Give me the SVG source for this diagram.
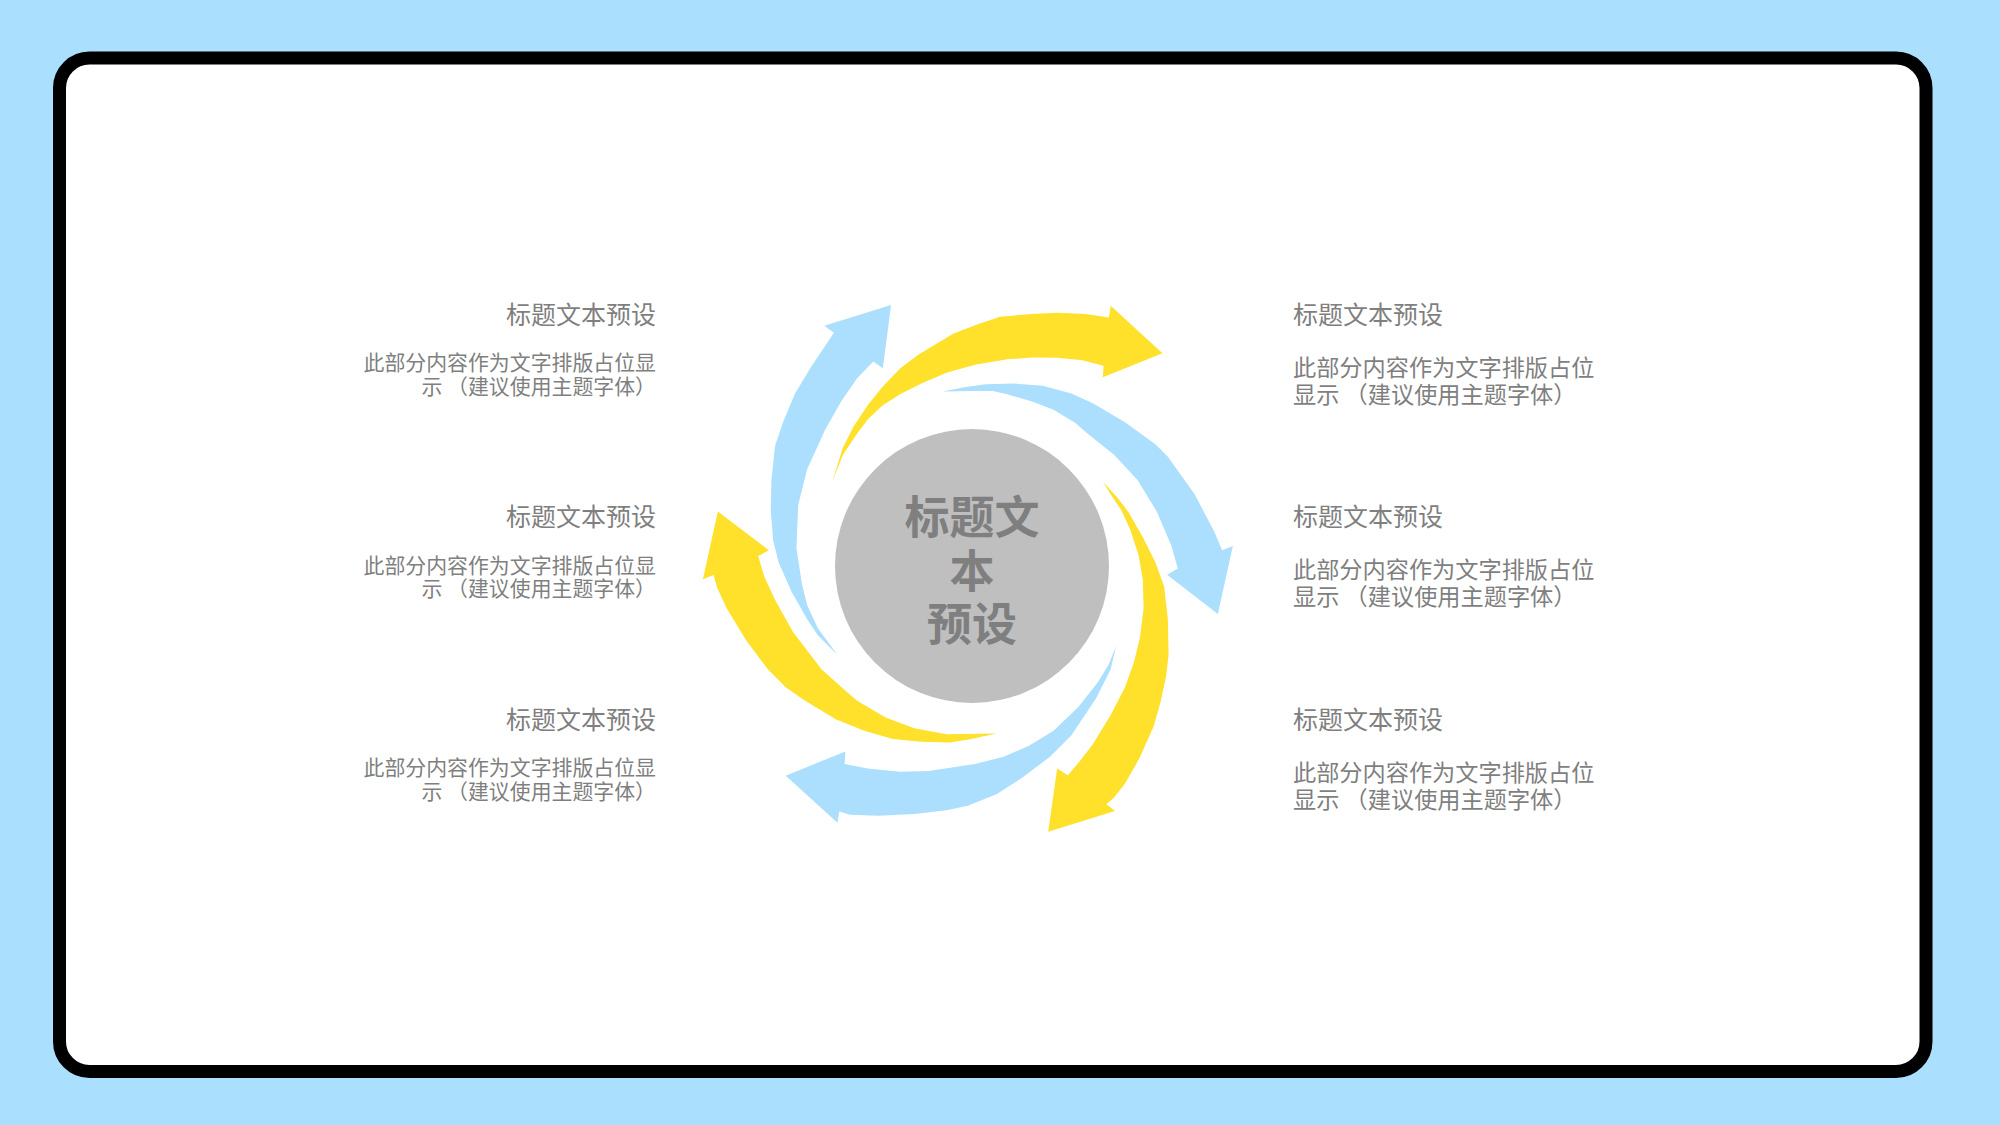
<svg xmlns="http://www.w3.org/2000/svg" width="2000" height="1125" viewBox="0 0 2000 1125">
  <style>
    .bg { fill: #ABDFFE; }
    .frame { fill: #FFFFFF; stroke: #000000; stroke-width: 13; }
    .blue { fill: #ABDFFD; }
    .yellow { fill: #FFE12B; }
    .hub { fill: #BFBFBF; }
    .hubtxt { font-family: "Noto Sans CJK SC", "Liberation Sans", sans-serif; font-size: 45px; font-weight: bold; fill: #7F7F7F; text-anchor: middle; }
    .title { font-family: "Noto Sans CJK SC", "Liberation Sans", sans-serif; font-size: 25px; fill: #7F7F7F; }
    .descL { font-family: "Noto Sans CJK SC", "Liberation Sans", sans-serif; font-size: 20.9px; fill: #7F7F7F; text-anchor: end; }
    .descR { font-family: "Noto Sans CJK SC", "Liberation Sans", sans-serif; font-size: 23.2px; fill: #7F7F7F; }
    .end { text-anchor: end; }
  </style>

  <rect class="bg" x="0" y="0" width="2000" height="1125"/>
  <g id="frame">
    <rect class="frame" x="59.5" y="58" width="1866.5" height="1013.5" rx="30" ry="30"/>
  </g>

  <g id="connectors" transform="translate(700 280) scale(0.357143)">
    <polygon id="arrow-top" class="yellow" points="370,565 400,470 430,410 470,350 510,300 560,248 610,210 660,180 710,150 780,123 840,103 930,95 1000,92 1080,95 1145,105 1150,72 1295,205 1128,272 1130,240 1070,225 1000,218 930,217 860,222 770,237 690,260 620,290 560,320 510,352 470,390 440,430 400,490"/>
    <polygon id="arrow-right" class="blue" points="680,312 740,300 800,292 880,290 960,296 1040,318 1100,345 1190,398 1275,460 1310,495 1385,600 1440,705 1462,757 1492,745 1450,935 1308,825 1338,808 1320,745 1280,650 1225,560 1160,490 1085,430 1050,400 990,363 930,340 860,320 820,311 760,311"/>
    <polygon id="arrow-bottom-right" class="yellow" points="1128,565 1165,605 1200,650 1240,720 1275,790 1300,860 1310,950 1312,1050 1305,1110 1290,1180 1270,1250 1230,1340 1190,1410 1160,1448 1138,1468 1162,1487 975,1545 1000,1368 1030,1387 1060,1352 1100,1300 1150,1218 1190,1140 1215,1070 1232,1000 1242,920 1240,840 1228,770 1205,700 1180,645 1150,600"/>
    <polygon id="arrow-bottom" class="blue" points="1165,1025 1150,1090 1110,1170 1040,1275 980,1335 900,1395 830,1440 750,1472 690,1485 600,1495 500,1500 420,1497 390,1488 385,1520 240,1388 407,1320 405,1355 470,1368 560,1377 640,1375 770,1355 850,1335 920,1305 990,1262 1060,1195 1115,1125 1145,1075"/>
    <polygon id="arrow-left" class="yellow" points="830,1270 760,1285 700,1295 620,1293 540,1285 460,1262 380,1230 290,1175 240,1140 190,1090 130,1010 75,920 48,862 38,826 8,838 50,648 193,757 163,773 180,830 210,895 260,985 340,1090 405,1148 440,1178 520,1225 600,1255 690,1272"/>
    <polygon id="arrow-top-left" class="blue" points="385,1050 330,995 300,950 255,870 220,790 205,730 198,645 200,560 210,465 232,400 265,320 310,245 375,148 348,128 535,70 512,247 485,228 440,275 395,340 350,420 300,530 275,630 270,750 285,850 300,910 330,975"/>
  </g>

  <g id="hub">
    <circle class="hub" cx="972" cy="566" r="137"/>
    <text class="hubtxt" x="972" y="534">标题文</text>
    <text class="hubtxt" x="972" y="588">本</text>
    <text class="hubtxt" x="972" y="641">预设</text>
  </g>

  <g id="item-left-1">
    <text class="title end" x="656" y="323.5">标题文本预设</text>
    <text class="descL" x="656" y="370">此部分内容作为文字排版占位显</text>
    <text class="descL" x="656" y="393.5">示 （建议使用主题字体）</text>
  </g>
  <g id="item-left-2">
    <text class="title end" x="656" y="526">标题文本预设</text>
    <text class="descL" x="656" y="572.5">此部分内容作为文字排版占位显</text>
    <text class="descL" x="656" y="596">示 （建议使用主题字体）</text>
  </g>
  <g id="item-left-3">
    <text class="title end" x="656" y="728.5">标题文本预设</text>
    <text class="descL" x="656" y="775">此部分内容作为文字排版占位显</text>
    <text class="descL" x="656" y="798.5">示 （建议使用主题字体）</text>
  </g>

  <g id="item-right-1">
    <text class="title" x="1293" y="323.5">标题文本预设</text>
    <text class="descR" x="1293" y="375.5">此部分内容作为文字排版占位</text>
    <text class="descR" x="1293" y="402.5">显示 （建议使用主题字体）</text>
  </g>
  <g id="item-right-2">
    <text class="title" x="1293" y="526">标题文本预设</text>
    <text class="descR" x="1293" y="578">此部分内容作为文字排版占位</text>
    <text class="descR" x="1293" y="605">显示 （建议使用主题字体）</text>
  </g>
  <g id="item-right-3">
    <text class="title" x="1293" y="728.5">标题文本预设</text>
    <text class="descR" x="1293" y="780.5">此部分内容作为文字排版占位</text>
    <text class="descR" x="1293" y="807.5">显示 （建议使用主题字体）</text>
  </g>
</svg>
